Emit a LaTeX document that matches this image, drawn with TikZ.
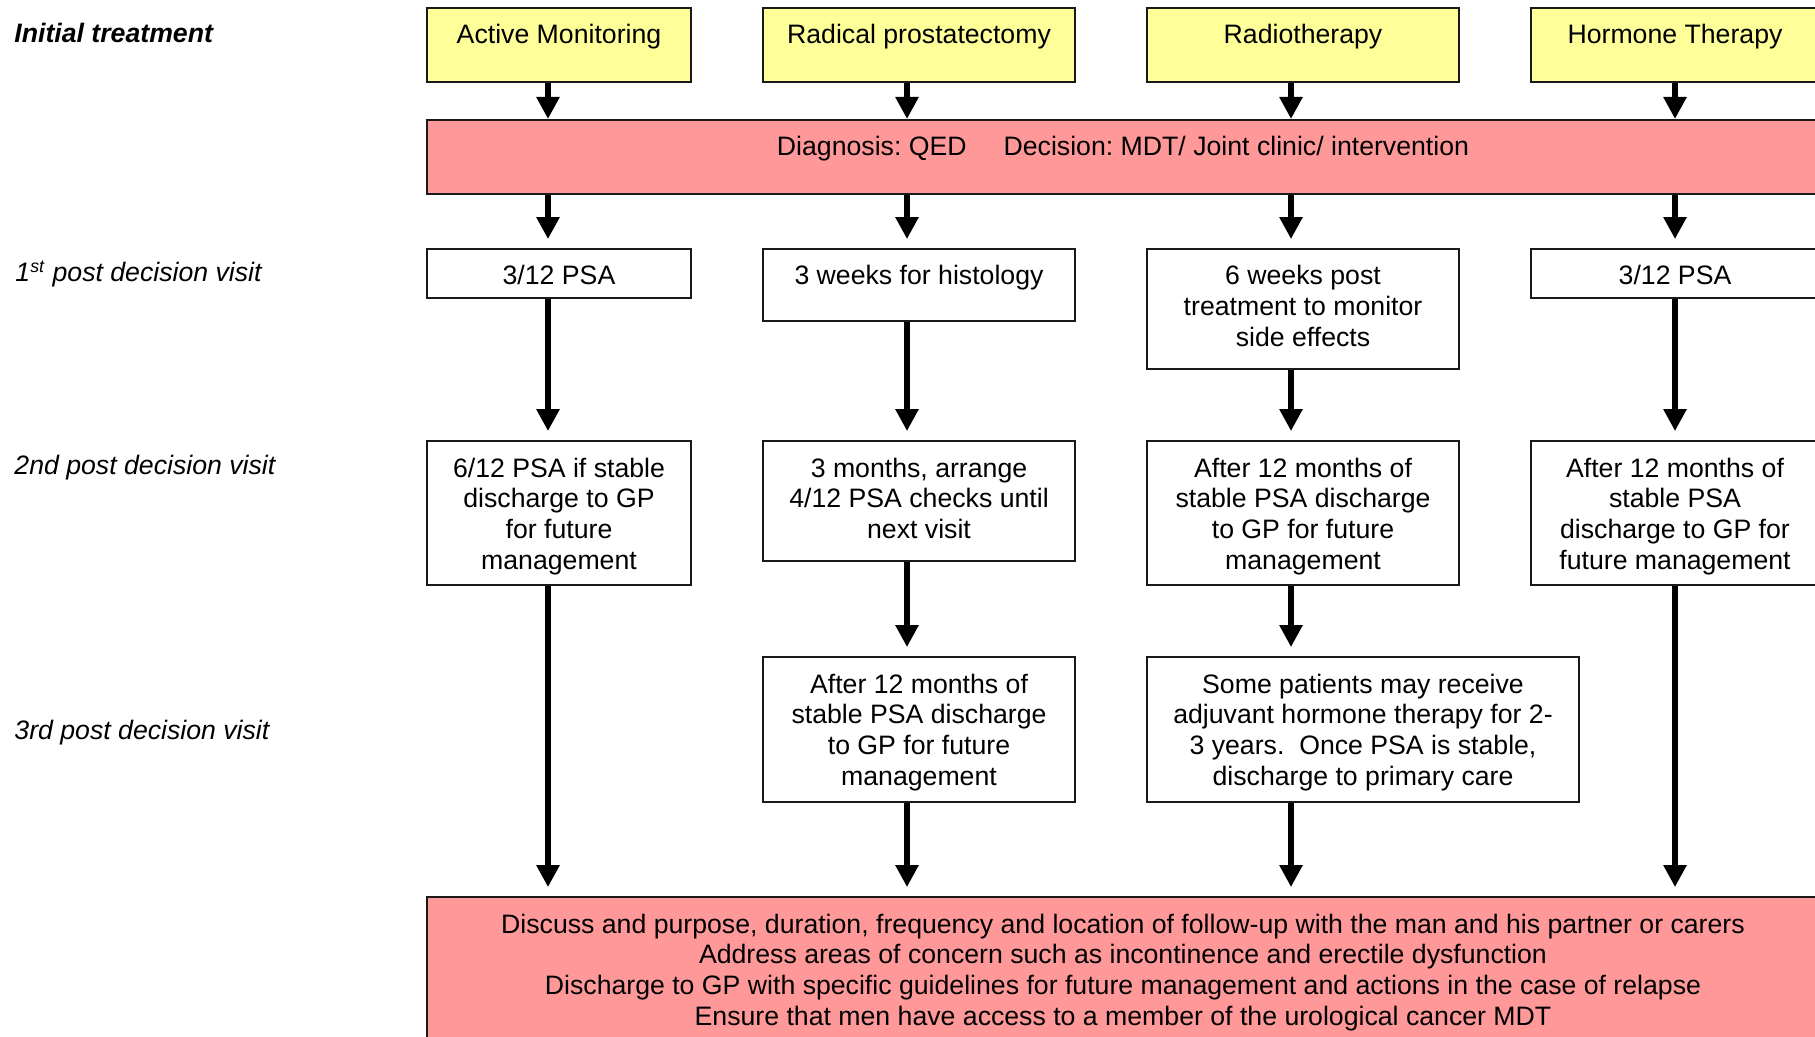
\documentclass[tikz,border=0pt]{standalone}
\usepackage{fontspec}
\setmainfont{Liberation Sans}
\usetikzlibrary{arrows.meta}

\definecolor{treatyellow}{HTML}{FFFF99}
\definecolor{mdtpink}{HTML}{FF9999}

% 12pt text, plain word spaces
\newcommand\flowfont{\fontsize{12}{13.8}\selectfont\frenchspacing}

\begin{document}
\begin{tikzpicture}[x=0.45pt, y=-0.45pt,
    every node/.style={font=\flowfont, execute at begin node={\spaceskip=\fontdimen2\font\relax}},
    box/.style={draw=black!90, line width=0.9pt, fill=white, anchor=north, align=center,
        inner sep=0pt, text height=16.2pt, text depth=#1},
    treat/.style={box=17.1pt, fill=treatyellow},
    band/.style={box=#1, fill=mdtpink, text width=626.4pt},
    rowlabel/.style={anchor=base west, inner sep=0pt, font=\flowfont\itshape},
    flow/.style={line width=2.7pt, -{Triangle[width=9.9pt, length=9.9pt]}},
    gap/.style={flow, shorten >=4pt}]
    \useasboundingbox (0,0) rectangle (1815,1037);

    % left hand row labels
    \node[rowlabel, font=\flowfont\bfseries\itshape] (lab0) at (14,43) {Initial treatment};
    \node[rowlabel] (lab1) at (15,282) {1\textsuperscript{st} post decision visit};
    \node[rowlabel] (lab2) at (14,474) {2nd post decision visit};
    \node[rowlabel] (lab3) at (14,739) {3rd post decision visit};

    % arrow columns
    \coordinate (c1) at (548,0);
    \coordinate (c2) at (907,0);
    \coordinate (c3) at (1291,0);
    \coordinate (c4) at (1675,0);

    % treatments
    \node[treat, text width=118.8pt] (am) at (559,7) {Active Monitoring};
    \node[treat, text width=140.4pt] (rp) at (919,7) {Radical prostatectomy};
    \node[treat, text width=140pt] (rt) at (1303,7) {Radiotherapy};
    \node[treat, text width=129.6pt] (ht) at (1675,7) {Hormone Therapy};

    \node[band=17.1pt] (decide) at (1123,119) {Diagnosis: QED \hspace{10pt} Decision: MDT/ Joint clinic/ intervention};

    % 1st visit
    \node[box=5.9pt, text width=118.8pt] (am1) at (559,248) {3/12 PSA};
    \node[box=16.2pt, text width=140.4pt] (rp1) at (919,248) {3 weeks for histology};
    \node[box=37.8pt, text width=140pt] (rt1) at (1303,248) {6 weeks post\\treatment to monitor\\side effects};
    \node[box=5.9pt, text width=129.6pt] (ht1) at (1675,248) {3/12 PSA};

    % 2nd visit
    \node[box=48.6pt, text width=118.8pt] (am2) at (559,440) {6/12 PSA if stable\\discharge to GP\\for future\\management};
    \node[box=37.8pt, text width=140.4pt] (rp2) at (919,440) {3 months, arrange\\4/12 PSA checks until\\next visit};
    \node[box=48.6pt, text width=140pt] (rt2) at (1303,440) {After 12 months of\\stable PSA discharge\\to GP for future\\management};
    \node[box=48.6pt, text width=129.6pt] (ht2) at (1675,440) {After 12 months of\\stable PSA\\discharge to GP for\\future management};

    % 3rd visit
    \node[box=49.1pt, text width=140.4pt] (rp3) at (919,656) {After 12 months of\\stable PSA discharge\\to GP for future\\management};
    \node[box=49.1pt, text width=194.4pt] (rt3) at (1363,656) {Some patients may receive\\adjuvant hormone therapy for 2-\\3 years.\ \ Once PSA is stable,\\discharge to primary care};

    \node[band=51.3pt] (followup) at (1123,896) {Discuss and purpose, duration, frequency and location of follow-up with the man and his partner or carers\\Address areas of concern such as incontinence and erectile dysfunction\\Discharge to GP with specific guidelines for future management and actions in the case of relapse\\Ensure that men have access to a member of the urological cancer MDT};

    \draw[flow] (am.south -| c1) -- (decide.north -| c1);
    \draw[flow] (rp.south -| c2) -- (decide.north -| c2);
    \draw[flow] (rt.south -| c3) -- (decide.north -| c3);
    \draw[flow] (ht.south -| c4) -- (decide.north -| c4);

    \draw[gap] (decide.south -| c1) -- (am1.north -| c1);
    \draw[gap] (decide.south -| c2) -- (rp1.north -| c2);
    \draw[gap] (decide.south -| c3) -- (rt1.north -| c3);
    \draw[gap] (decide.south -| c4) -- (ht1.north -| c4);

    \draw[gap] (am1.south -| c1) -- (am2.north -| c1);
    \draw[gap] (rp1.south -| c2) -- (rp2.north -| c2);
    \draw[gap] (rt1.south -| c3) -- (rt2.north -| c3);
    \draw[gap] (ht1.south -| c4) -- (ht2.north -| c4);

    \draw[gap] (rp2.south -| c2) -- (rp3.north -| c2);
    \draw[gap] (rt2.south -| c3) -- (rt3.north -| c3);

    \draw[gap] (am2.south -| c1) -- (followup.north -| c1);
    \draw[gap] (rp3.south -| c2) -- (followup.north -| c2);
    \draw[gap] (rt3.south -| c3) -- (followup.north -| c3);
    \draw[gap] (ht2.south -| c4) -- (followup.north -| c4);
\end{tikzpicture}
\end{document}
